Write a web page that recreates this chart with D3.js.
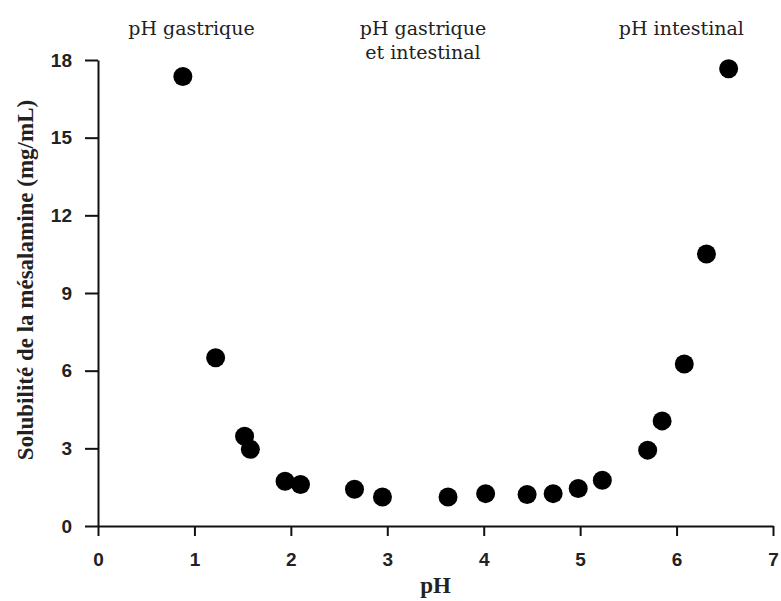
<!DOCTYPE html>
<html>
<head>
<meta charset="utf-8">
<script src="https://cdn.jsdelivr.net/npm/d3@7"></script>
<style>
  body { margin: 0; background: #fff; }
  .tick text { font-family: "Liberation Sans", Arial, sans-serif; font-weight: bold; font-size: 19px; fill: #222; }
  .axis path, .axis line { stroke: #111; stroke-width: 2px; }
</style>
</head>
<body>
<div id="chart"></div>
<script>
// solubility of mesalamine vs pH
var phValues = [0.88, 1.22, 1.52, 1.58, 1.94, 2.10, 2.66, 2.95, 3.63, 4.02, 4.45, 4.72, 4.98, 5.23, 5.70, 5.85, 6.08, 6.31, 6.54];
var solubility = [17.36, 6.50, 3.47, 2.96, 1.73, 1.60, 1.42, 1.12, 1.12, 1.25, 1.22, 1.25, 1.45, 1.77, 2.93, 4.06, 6.26, 10.51, 17.66];
var xTicks = [0, 1, 2, 3, 4, 5, 6, 7];
var yTicks = [0, 3, 6, 9, 12, 15, 18];
var zoneLabels = [["pH gastrique"], ["pH gastrique", "et intestinal"], ["pH intestinal"]];
var zoneCenters = [0.97, 3.37, 6.05];

var width = 781, height = 601;
var margin = { top: 60, right: 8, bottom: 75, left: 98 };

var svg = d3.select("#chart").append("svg")
  .attr("width", width)
  .attr("height", height);

var x = d3.scaleLinear().domain([0, 7]).range([margin.left, width - margin.right]);
var y = d3.scaleLinear().domain([0, 18]).range([height - margin.bottom, margin.top]);

var xAxis = d3.axisBottom(x).tickValues(xTicks).tickFormat(d3.format("d"))
  .tickSize(10).tickPadding(17).tickSizeOuter(0);
var yAxis = d3.axisLeft(y).tickValues(yTicks).tickFormat(d3.format("d"))
  .tickSize(13).tickPadding(13).tickSizeOuter(0);

svg.append("g")
  .attr("class", "x axis")
  .attr("transform", "translate(0," + y(0) + ")")
  .call(xAxis);

svg.append("g")
  .attr("class", "y axis")
  .attr("transform", "translate(" + x(0) + ",0)")
  .call(yAxis);

// dots
svg.append("g").selectAll("circle")
  .data(phValues)
  .enter()
  .append("circle")
  .attr("cx", function (d) { return x(d); })
  .attr("cy", function (d, i) { return y(solubility[i]); })
  .attr("r", 9.5)
  .attr("fill", "#000");

// zone labels at the top
zoneLabels.forEach(function (lines, i) {
  var t = svg.append("text")
    .attr("x", x(zoneCenters[i]))
    .attr("y", 35)
    .attr("text-anchor", "middle")
    .style("font-family", "'DejaVu Serif', serif")
    .style("font-size", "19px")
    .style("fill", "#222");
  lines.forEach(function (line, j) {
    t.append("tspan")
      .attr("x", x(zoneCenters[i]))
      .attr("dy", j === 0 ? 0 : 24)
      .text(line);
  });
});

// axis titles
svg.append("text")
  .attr("x", x(3.5))
  .attr("y", 593)
  .attr("text-anchor", "middle")
  .style("font-family", "'Liberation Serif', 'Times New Roman', serif")
  .style("font-weight", "bold")
  .style("font-size", "23px")
  .style("fill", "#222")
  .text("pH");

svg.append("text")
  .attr("transform", "translate(33," + 280 + ") rotate(-90)")
  .attr("text-anchor", "middle")
  .style("font-family", "'Liberation Serif', 'Times New Roman', serif")
  .style("font-weight", "bold")
  .style("font-size", "23px")
  .style("fill", "#222")
  .text("Solubilité de la mésalamine (mg/mL)");
</script>
</body>
</html>
